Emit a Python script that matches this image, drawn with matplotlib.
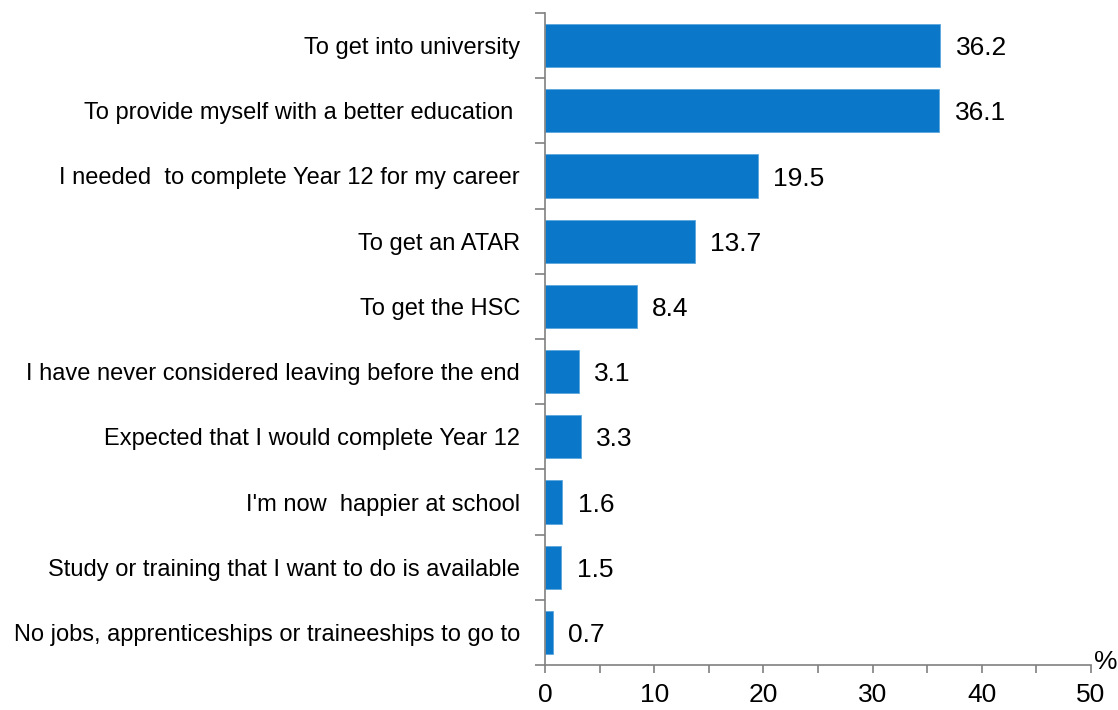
import matplotlib
matplotlib.use("Agg")
import matplotlib.pyplot as plt
from matplotlib.ticker import MultipleLocator, FixedLocator

plt.rcParams['font.family'] = ['Liberation Sans', 'DejaVu Sans']

categories = [
    "To get into university",
    "To provide myself with a better education ",
    "I needed  to complete Year 12 for my career",
    "To get an ATAR",
    "To get the HSC",
    "I have never considered leaving before the end",
    "Expected that I would complete Year 12",
    "I'm now  happier at school",
    "Study or training that I want to do is available",
    "No jobs, apprenticeships or traineeships to go to",
]
values = [36.2, 36.1, 19.5, 13.7, 8.4, 3.1, 3.3, 1.6, 1.5, 0.7]
xticks = [0, 10, 20, 30, 40, 50]

W, H = 1118, 710
fig = plt.figure(figsize=(W / 100, H / 100), dpi=100)
left, right, top, bottom = 545, 1091, 13, 665
ax = fig.add_axes([left / W, 1 - bottom / H, (right - left) / W, (bottom - top) / H])

n = len(categories)
ypos = list(range(n))
ax.barh(ypos, values, height=0.66, color='#0A77C8', edgecolor='#5CA8DE', linewidth=0.6)
ax.set_ylim(n - 0.5, -0.5)
ax.set_xlim(0, 50)

for y, v in zip(ypos, values):
    ax.text(v + 1.4, y + 0.04, f"{v:.1f}", va='center', ha='left', fontsize=19, color='#000000')

ax.set_yticks(ypos)
ax.set_yticklabels(categories, fontsize=17)
ax.yaxis.set_minor_locator(FixedLocator([i - 0.5 for i in range(n + 1)]))
ax.tick_params(axis='y', which='major', length=0, pad=18)
ax.tick_params(axis='y', which='minor', length=7, color='#808080', width=1.2)

ax.set_xticks(xticks)
ax.set_xticklabels([str(t) for t in xticks], fontsize=19)
ax.xaxis.set_minor_locator(MultipleLocator(5))
ax.tick_params(axis='x', which='major', length=6, color='#808080', width=1.2, pad=7)
ax.tick_params(axis='x', which='minor', length=6, color='#808080', width=1.2)

for s in ['top', 'right']:
    ax.spines[s].set_visible(False)
for s in ['left', 'bottom']:
    ax.spines[s].set_color('#808080')
    ax.spines[s].set_linewidth(1.2)

fig.text(1106 / W, 1 - 662 / H, "%", fontsize=19, ha='center', va='center')

fig.savefig("out.png", dpi=100)
